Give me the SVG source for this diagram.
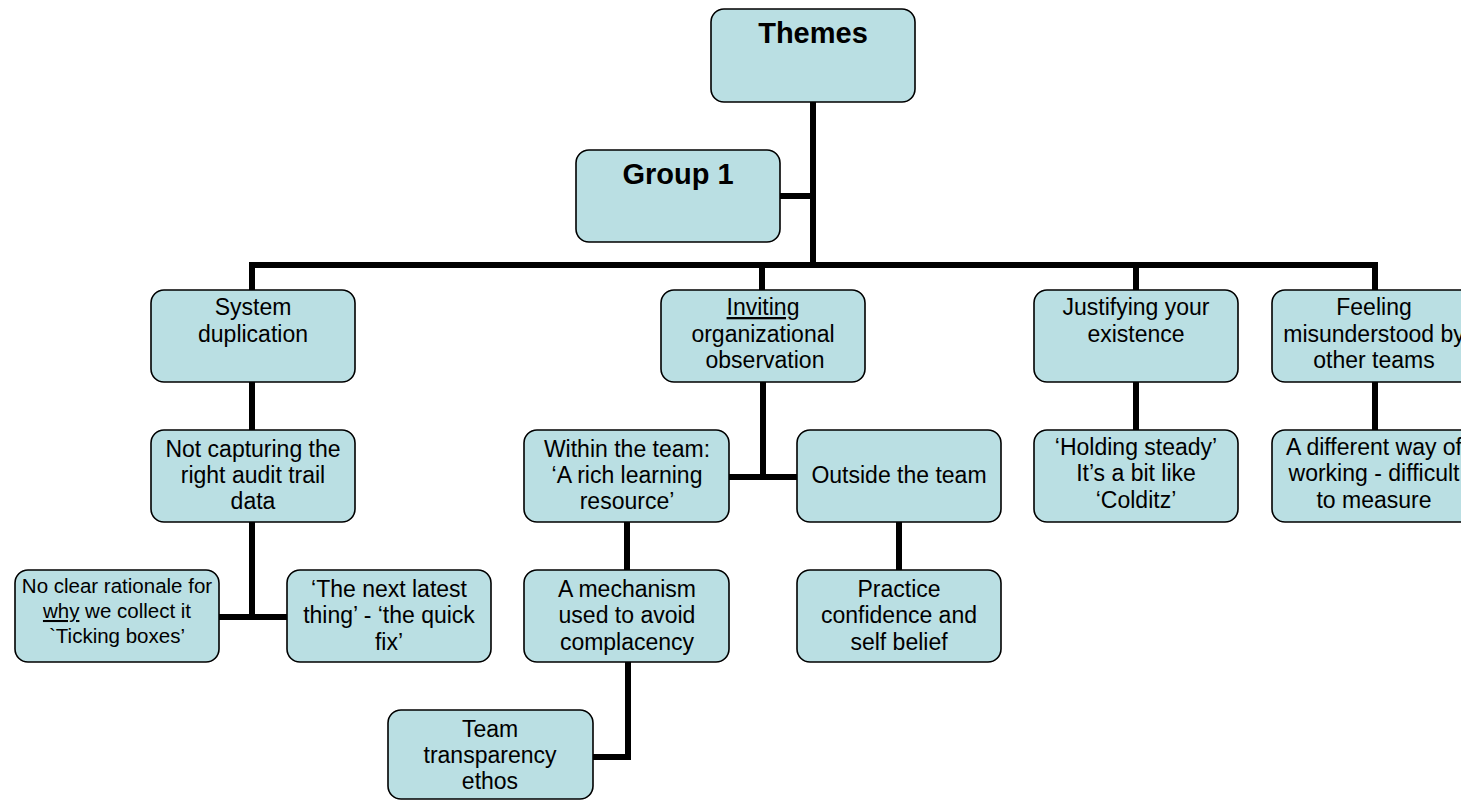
<svg xmlns="http://www.w3.org/2000/svg" width="1461" height="800" viewBox="0 0 1461 800">
  <style>
    .box { fill: #badfe3; stroke: #000; stroke-width: 1.6; }
    .t { font-family: "Liberation Sans", Arial, sans-serif; font-size: 23px; fill: #000; text-anchor: middle; }
    .s { font-size: 20.5px; }
    .b { font-family: "Liberation Sans", Arial, sans-serif; font-size: 29px; font-weight: bold; fill: #000; text-anchor: middle; }
    .link { fill: none; stroke: #000; stroke-width: 6; stroke-linejoin: miter; stroke-linecap: square; }
  </style>

  <!-- connectors -->
  <g id="connectors">
    <path class="link" d="M813 102 V265"/>
    <path class="link" d="M780 196 H813"/>
    <path class="link" d="M252 290 V265 H1375 V290"/>
    <path class="link" d="M762 265 V290"/>
    <path class="link" d="M1136 265 V290"/>
    <path class="link" d="M252 382 V430"/>
    <path class="link" d="M252 522 V617"/>
    <path class="link" d="M219 617 H287"/>
    <path class="link" d="M763 382 V477"/>
    <path class="link" d="M729 477 H797"/>
    <path class="link" d="M627 522 V570"/>
    <path class="link" d="M899 522 V570"/>
    <path class="link" d="M628 662 V757 H593"/>
    <path class="link" d="M1136 382 V430"/>
    <path class="link" d="M1375 382 V430"/>
  </g>

  <g id="themes">
    <rect class="box" x="711" y="9" width="204" height="93" rx="13"/>
    <text class="b" x="813" y="43">Themes</text>
  </g>

  <g id="group1">
    <rect class="box" x="576" y="150" width="204" height="92" rx="13"/>
    <text class="b" x="678" y="184">Group 1</text>
  </g>

  <g id="system-duplication">
    <rect class="box" x="151" y="290" width="204" height="92" rx="13"/>
    <text class="t" x="253" y="315">System</text>
    <text class="t" x="253" y="342">duplication</text>
  </g>

  <g id="inviting">
    <rect class="box" x="661" y="290" width="204" height="92" rx="13"/>
    <text class="t" x="763" y="315" text-decoration="underline">Inviting</text>
    <text class="t" x="763" y="342">organizational</text>
    <text class="t" x="765" y="368">observation</text>
  </g>

  <g id="justifying">
    <rect class="box" x="1034" y="290" width="204" height="92" rx="13"/>
    <text class="t" x="1136" y="315">Justifying your</text>
    <text class="t" x="1136" y="342">existence</text>
  </g>

  <g id="feeling">
    <rect class="box" x="1272" y="290" width="204" height="92" rx="13"/>
    <text class="t" x="1374" y="315">Feeling</text>
    <text class="t" x="1374" y="342">misunderstood by</text>
    <text class="t" x="1374" y="368">other teams</text>
  </g>

  <g id="not-capturing">
    <rect class="box" x="151" y="430" width="204" height="92" rx="13"/>
    <text class="t" x="253" y="457">Not capturing the</text>
    <text class="t" x="253" y="483">right audit trail</text>
    <text class="t" x="253" y="509">data</text>
  </g>

  <g id="within-team">
    <rect class="box" x="524" y="430" width="205" height="92" rx="13"/>
    <text class="t" x="627" y="457">Within the team:</text>
    <text class="t" x="627" y="483">‘A rich learning</text>
    <text class="t" x="627" y="509">resource’</text>
  </g>

  <g id="outside-team">
    <rect class="box" x="797" y="430" width="204" height="92" rx="13"/>
    <text class="t" x="899" y="483">Outside the team</text>
  </g>

  <g id="holding-steady">
    <rect class="box" x="1034" y="430" width="204" height="92" rx="13"/>
    <text class="t" x="1136" y="455">‘Holding steady’</text>
    <text class="t" x="1136" y="481">It’s a bit like</text>
    <text class="t" x="1136" y="508">‘Colditz’</text>
  </g>

  <g id="different-way">
    <rect class="box" x="1272" y="430" width="204" height="92" rx="13"/>
    <text class="t" x="1374" y="455">A different way of</text>
    <text class="t" x="1374" y="481">working - difficult</text>
    <text class="t" x="1374" y="508">to measure</text>
  </g>

  <g id="no-clear-rationale">
    <rect class="box" x="15" y="570" width="204" height="92" rx="13"/>
    <text class="t s" x="117" y="593">No clear rationale for</text>
    <text class="t s" x="117" y="618"><tspan text-decoration="underline">why</tspan> we collect it</text>
    <text class="t s" x="117" y="643">`Ticking boxes’</text>
  </g>

  <g id="next-latest">
    <rect class="box" x="287" y="570" width="204" height="92" rx="13"/>
    <text class="t" x="389" y="597">‘The next latest</text>
    <text class="t" x="389" y="623">thing’ - ‘the quick</text>
    <text class="t" x="389" y="650">fix’</text>
  </g>

  <g id="mechanism">
    <rect class="box" x="524" y="570" width="205" height="92" rx="13"/>
    <text class="t" x="627" y="597">A mechanism</text>
    <text class="t" x="627" y="623">used to avoid</text>
    <text class="t" x="627" y="650">complacency</text>
  </g>

  <g id="practice-confidence">
    <rect class="box" x="797" y="570" width="204" height="92" rx="13"/>
    <text class="t" x="899" y="597">Practice</text>
    <text class="t" x="899" y="623">confidence and</text>
    <text class="t" x="899" y="650">self belief</text>
  </g>

  <g id="team-transparency">
    <rect class="box" x="388" y="710" width="205" height="89" rx="13"/>
    <text class="t" x="490" y="737">Team</text>
    <text class="t" x="490" y="763">transparency</text>
    <text class="t" x="490" y="789">ethos</text>
  </g>
</svg>
